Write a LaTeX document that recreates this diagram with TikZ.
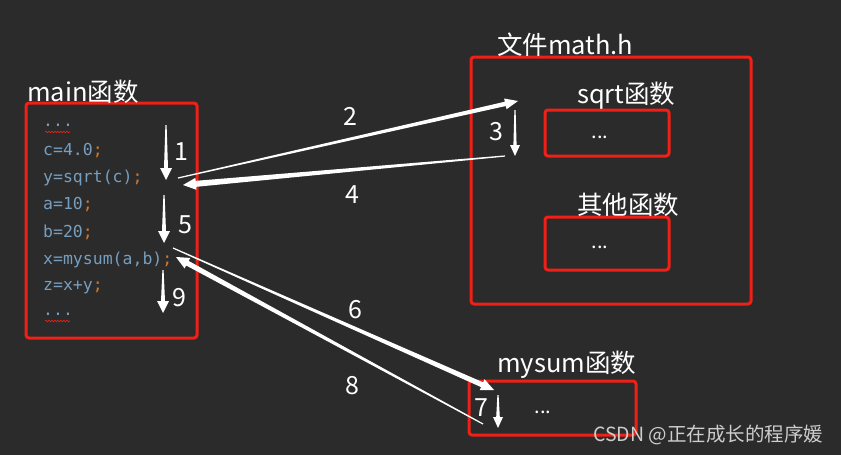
\documentclass[tikz,border=0pt]{standalone}
\usepackage{fontspec}
\setmainfont{Noto Sans CJK SC}
\newfontfamily\codefont{DejaVu Sans Mono}
\usetikzlibrary{calc,decorations.pathmorphing}
\definecolor{bg}{RGB}{43,43,43}
\definecolor{boxred}{RGB}{240,32,22}
\definecolor{codeblue}{RGB}{118,158,192}
\definecolor{codeorange}{RGB}{204,120,50}
\definecolor{markgray}{RGB}{205,205,205}
% tapered arrow: from, to, shaft half width, head length, head half width
\newcommand{\taperarrow}[5]{%
  \coordinate (hb) at ($(#2)!#4!(#1)$);
  \fill[white] ($(#1)!0.6pt!90:(#2)$) -- ($(hb)!#3!-90:(#1)$) -- ($(hb)!#5!-90:(#1)$) -- (#2)
    -- ($(hb)!#5!90:(#1)$) -- ($(hb)!#3!90:(#1)$) -- ($(#1)!0.6pt!-90:(#2)$) -- cycle;}
\begin{document}
\begin{tikzpicture}[x=1pt,y=-1pt,every node/.style={text=white,inner sep=1pt},
  redbox/.style={draw=boxred,line width=3pt,rounded corners=3pt},
  lbl/.style={anchor=west,font=\fontsize{25.5}{28}\selectfont},
  num/.style={font=\fontsize{25}{28}\selectfont},
  code/.style={anchor=west,text=codeblue,font=\codefont\fontsize{16.5}{19}\selectfont},
  dots/.style={anchor=base,font=\fontsize{20}{22}\selectfont}]
\fill[bg] (0,0) rectangle (841,455);
\useasboundingbox (0,0) rectangle (841,455);
% boxes
\draw[redbox] (26,103) rectangle (197,338);
\draw[redbox] (471,57) rectangle (751,304);
\draw[redbox] (545,110) rectangle (669,156);
\draw[redbox] (545,217) rectangle (669,270);
\draw[redbox] (469,381) rectangle (636,435);
\node[lbl] (mainlbl) at (26,92) {main函数};
\node[lbl] (filelbl) at (496,45) {文件math.h};
\node[lbl] (sqrtlbl) at (576,96) {sqrt函数};
\node[lbl] (otherlbl) at (576,205) {其他函数};
\node[lbl] (sumlbl) at (496,365) {mysum函数};
\node[dots] (sqrtdots) at (600,138) {...};
\node[dots] (otherdots) at (600,248) {...};
\node[dots] (sumdots) at (543,413) {...};
% code of main
\node[code] (dotsA) at (42,125) {...};
\node[code] (lineC) at (42,151) {c=4.0\textcolor{codeorange}{;}};
\node[code] (lineY) at (42,178) {y=sqrt(c)\textcolor{codeorange}{;}};
\node[code] (lineA) at (42,205) {a=10\textcolor{codeorange}{;}};
\node[code] (lineB) at (42,232) {b=20\textcolor{codeorange}{;}};
\node[code] (lineX) at (42,260) {x=mysum(a,b)\textcolor{codeorange}{;}};
\node[code] (lineZ) at (42,287) {z=x+y\textcolor{codeorange}{;}};
\node[code] (dotsB) at (42,314) {...};
\draw[boxred,line width=0.6pt,decorate,decoration={snake,amplitude=0.8pt,segment length=3pt}]
  (45,132) -- (70,132);
\draw[boxred,line width=0.6pt,decorate,decoration={snake,amplitude=0.8pt,segment length=3pt}]
  (45,321) -- (70,321);
% steps
\coordinate (s1) at (166,125);
\coordinate (e1) at (166,180);
\coordinate (s2) at (178,178);
\coordinate (e2) at (518,101);
\coordinate (s3) at (515,110);
\coordinate (e3) at (515,156);
\coordinate (s4) at (505,156);
\coordinate (e4) at (183,185);
\coordinate (s5) at (164,195);
\coordinate (e5) at (164,243);
\coordinate (s6) at (173,248);
\coordinate (e6) at (494,390);
\coordinate (s7) at (498,395);
\coordinate (e7) at (498,428);
\coordinate (s8) at (483,424);
\coordinate (e8) at (176,257);
\coordinate (s9) at (163,270);
\coordinate (e9) at (163,313);
\taperarrow{s1}{e1}{2pt}{12pt}{6pt}
\taperarrow{s2}{e2}{2.2pt}{13pt}{5.5pt}
\taperarrow{s3}{e3}{1.6pt}{11pt}{5pt}
\taperarrow{s4}{e4}{3pt}{13pt}{6pt}
\taperarrow{s5}{e5}{2pt}{12pt}{6pt}
\taperarrow{s6}{e6}{2.6pt}{13pt}{6pt}
\taperarrow{s7}{e7}{1.8pt}{11pt}{5pt}
\taperarrow{s8}{e8}{2.6pt}{13pt}{6pt}
\taperarrow{s9}{e9}{2pt}{12pt}{6pt}
\node[num] (n1) at (181,152) {1};
\node[num] (n2) at (350,116) {2};
\node[num] (n3) at (496,132) {3};
\node[num] (n4) at (352,195) {4};
\node[num] (n5) at (185,225) {5};
\node[num] (n6) at (355,310) {6};
\node[num] (n7) at (481,408) {7};
\node[num] (n8) at (352,386) {8};
\node[num] (n9) at (179,298) {9};
\node[anchor=west,text=markgray,font=\fontsize{19.5}{22}\selectfont] (mark) at (592,435) {CSDN @正在成长的程序媛};
\end{tikzpicture}
\end{document}
